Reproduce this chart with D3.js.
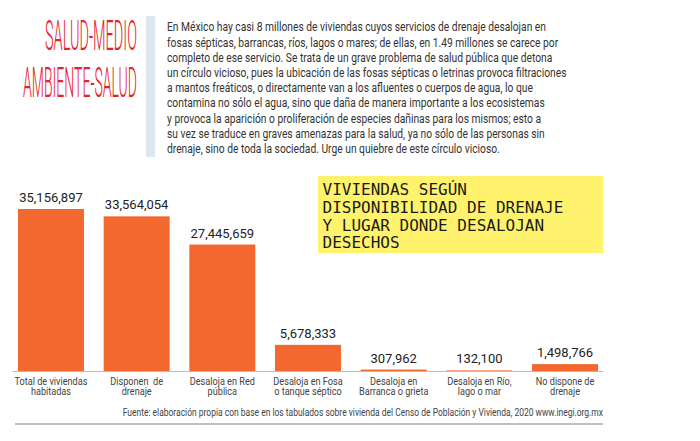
<!DOCTYPE html>
<html>
<head>
<meta charset="utf-8">
<script src="https://cdn.jsdelivr.net/npm/d3@7"></script>
<style>
  body { margin: 0; background: #fff; }
  svg { display: block; font-family: Roboto, "Noto Sans", sans-serif; }
</style>
</head>
<body>
<svg id="chart" width="700" height="441"></svg>
<script>
// datos
const categories = [
  "Total de viviendas\nhabitadas",
  "Disponen  de\ndrenaje",
  "Desaloja en Red\npública",
  "Desaloja en Fosa\no tanque séptico",
  "Desaloja en\nBarranca o grieta",
  "Desaloja en Río,\nlago o mar",
  "No dispone de\ndrenaje"
];
const values = [35156897, 33564054, 27445659, 5678333, 307962, 132100, 1498766];

const titleLines = ["SALUD-MEDIO", "AMBIENTE-SALUD"];
const introLines = [
  "En México hay casi 8 millones de viviendas cuyos servicios de drenaje desalojan en",
  "fosas sépticas, barrancas, ríos, lagos o mares; de ellas, en 1.49 millones se carece por",
  "completo de ese servicio. Se trata de un grave problema de salud pública que detona",
  "un círculo vicioso, pues la ubicación de las fosas sépticas o letrinas provoca filtraciones",
  "a mantos freáticos, o directamente van a los afluentes o cuerpos de agua, lo que",
  "contamina no sólo el agua, sino que daña de manera importante a los ecosistemas",
  "y provoca la aparición o proliferación de especies dañinas para los mismos; esto a",
  "su vez se traduce en graves amenazas para la salud, ya no sólo de las personas sin",
  "drenaje, sino de toda la sociedad. Urge un quiebre de este círculo vicioso."
];
const boxLines = ["VIVIENDAS SEGÚN", "DISPONIBILIDAD DE DRENAJE", "Y LUGAR DONDE DESALOJAN", "DESECHOS"];
const source = "Fuente: elaboración propia con base en los tabulados sobre vivienda del Censo de Población y Vivienda, 2020 www.inegi.org.mx";

const svg = d3.select("#chart");

// encabezado
const title = svg.append("g");
title.append("text")
  .attr("x", 45).attr("y", 50)
  .attr("textLength", 92).attr("lengthAdjust", "spacingAndGlyphs")
  .attr("font-size", 42).attr("font-weight", 300).attr("fill", "#e62129")
  .text(titleLines[0]);
title.append("text")
  .attr("x", 23).attr("y", 97)
  .attr("textLength", 114).attr("lengthAdjust", "spacingAndGlyphs")
  .attr("font-size", 42).attr("font-weight", 300).attr("fill", "#e62129")
  .text(titleLines[1]);

svg.append("rect")
  .attr("x", 146).attr("y", 16).attr("width", 9).attr("height", 141)
  .attr("fill", "#dfe7ee");

const intro = svg.append("g").attr("transform", "translate(167,0) scale(0.815,1)");
intro.selectAll("text")
  .data(introLines)
  .join("text")
  .attr("x", 0)
  .attr("y", (d, i) => 31.5 + i * 15.2)
  .attr("font-size", 12.6)
  .attr("fill", "#333")
  .text(d => d);

// recuadro amarillo
svg.append("rect")
  .attr("x", 318).attr("y", 176).attr("width", 285).attr("height", 77)
  .attr("fill", "#fff36d");
svg.append("g").selectAll("text")
  .data(boxLines)
  .join("text")
  .attr("x", 322.5)
  .attr("y", (d, i) => 195 + i * 17.8)
  .style("font-family", "'DejaVu Sans Mono', monospace")
  .attr("font-size", 16)
  .attr("fill", "#1a1a1a")
  .text(d => d);

// escalas
const baseY = 371;
const x = d3.scaleBand()
  .domain(categories)
  .range([18, 598])
  .paddingInner(0.23)
  .paddingOuter(0);

const y = d3.scaleLinear()
  .domain([0, d3.max(values)])
  .range([baseY, 209]);

const data = categories.map((c, i) => ({ cat: c, value: values[i] }));

svg.append("g").selectAll("rect")
  .data(data)
  .join("rect")
  .attr("x", d => x(d.cat))
  .attr("y", d => y(d.value))
  .attr("width", x.bandwidth())
  .attr("height", d => baseY - y(d.value))
  .attr("fill", "#f2682f");

svg.append("line")
  .attr("x1", 12.5).attr("x2", 603)
  .attr("y1", baseY + 0.5).attr("y2", baseY + 0.5)
  .attr("stroke", "#a9c1d2").attr("stroke-width", 1.2);

const fmt = d3.format(",");
svg.append("g").selectAll("text")
  .data(data)
  .join("text")
  .attr("x", d => x(d.cat) + x.bandwidth() / 2)
  .attr("y", d => y(d.value) - 7)
  .attr("text-anchor", "middle")
  .attr("font-size", 13)
  .attr("fill", "#222")
  .text(d => fmt(d.value));

// etiquetas de categoría
const catG = svg.append("g");
data.forEach(d => {
  const cx = x(d.cat) + x.bandwidth() / 2;
  const g = catG.append("g").attr("transform", `translate(${cx},0) scale(0.87,1)`);
  d.cat.split("\n").forEach((line, j) => {
    g.append("text")
      .attr("x", 0)
      .attr("y", 385.5 + j * 9.8)
      .attr("text-anchor", "middle")
      .attr("font-size", 10.5)
      .attr("fill", "#444")
      .style("white-space", "pre")
      .text(line);
  });
});

// fuente
svg.append("g").attr("transform", "translate(603,0) scale(0.772,1)")
  .append("text")
  .attr("x", 0).attr("y", 416)
  .attr("text-anchor", "end")
  .attr("font-size", 11)
  .attr("fill", "#444")
  .text(source);

svg.append("line")
  .attr("x1", 15).attr("x2", 603)
  .attr("y1", 424).attr("y2", 424)
  .attr("stroke", "#aaa").attr("stroke-width", 1.3);
</script>
</body>
</html>
